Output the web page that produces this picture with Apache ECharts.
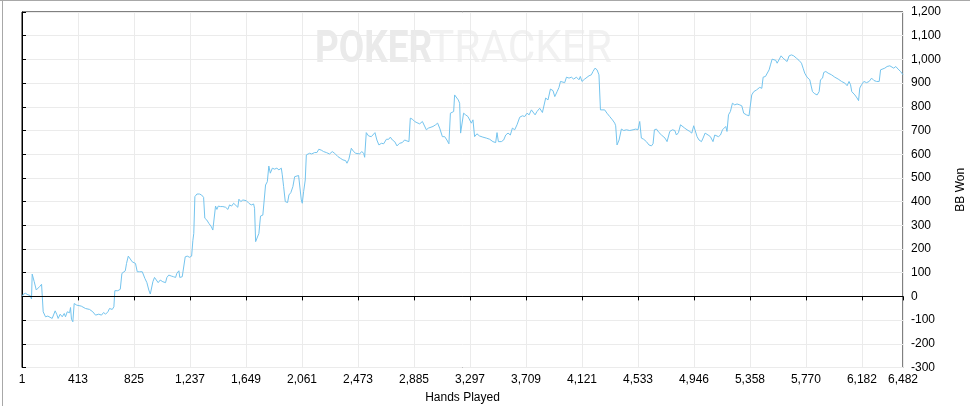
<!DOCTYPE html>
<html>
<head>
<meta charset="utf-8">
<script src="https://cdn.jsdelivr.net/npm/echarts@6/dist/echarts.min.js"></script>
<style>
html,body{margin:0;padding:0;background:#fff;}
#chart{width:970px;height:406px;}
</style>
</head>
<body>
<div id="chart"></div>
<script>
var hands = [1,11,26,43,60,70,75,90,105,119,129,144,153,156,173,190,202,222,234,244,256,266,281,296,311,320,333,350,357,364,374,384,403,436,467,497,521,541,565,585,600,615,632,644,664,676,683,705,723,735,747,760,769,782,796,811,823,835,848,865,885,894,904,919,933,944,955,963,975,988,1002,1017,1036,1056,1066,1080,1098,1115,1130,1139,1154,1161,1179,1191,1201,1216,1233,1248,1257,1264,1272,1287,1306,1321,1336,1345,1360,1375,1393,1404,1415,1424,1434,1444,1459,1478,1498,1515,1527,1542,1557,1571,1588,1596,1610,1625,1650,1669,1687,1704,1711,1719,1728,1743,1755,1772,1785,1792,1805,1816,1827,1842,1858,1875,1890,1908,1915,1925,1937,1954,1964,1978,1993,2006,2018,2035,2048,2055,2062,2072,2084,2092,2104,2116,2131,2153,2170,2184,2202,2219,2239,2263,2283,2300,2324,2342,2361,2381,2391,2405,2423,2440,2455,2469,2484,2499,2514,2521,2533,2550,2570,2582,2597,2611,2626,2644,2661,2681,2698,2710,2725,2742,2759,2778,2798,2815,2832,2847,2857,2872,2889,2906,2926,2946,2960,2975,2990,3004,3024,3043,3058,3073,3093,3110,3126,3141,3152,3166,3176,3183,3196,3210,3220,3227,3240,3249,3264,3281,3294,3306,3318,3330,3347,3366,3391,3416,3441,3465,3485,3495,3505,3527,3544,3559,3576,3593,3608,3625,3642,3662,3682,3699,3716,3731,3748,3760,3775,3789,3809,3829,3839,3853,3870,3888,3907,3920,3937,3951,3962,3976,3993,4006,4025,4042,4059,4079,4098,4108,4120,4140,4153,4172,4189,4201,4216,4231,4245,4256,4270,4287,4304,4324,4344,4361,4368,4378,4393,4410,4427,4447,4471,4496,4516,4532,4545,4557,4574,4594,4613,4631,4643,4653,4668,4687,4705,4717,4731,4746,4756,4766,4786,4803,4815,4830,4845,4859,4876,4893,4913,4928,4942,4955,4967,4981,4999,5011,5026,5048,5065,5084,5097,5109,5124,5139,5154,5163,5178,5187,5198,5212,5227,5244,5261,5281,5296,5310,5330,5349,5362,5369,5384,5404,5416,5428,5443,5453,5470,5482,5497,5507,5519,5531,5546,5556,5570,5585,5600,5614,5629,5644,5661,5678,5698,5717,5735,5747,5759,5776,5796,5806,5816,5833,5850,5865,5875,5890,5899,5914,5931,5956,5980,6005,6030,6054,6071,6085,6096,6105,6128,6144,6155,6164,6177,6194,6214,6233,6251,6268,6287,6307,6317,6331,6348,6365,6385,6397,6414,6429,6446,6464,6482];
var bbWon = [0,10,13,7,4,-11,94,62,27,24,41,51,47,-65,-86,-83,-89,-93,-97,-61,-76,-93,-75,-86,-72,-86,-65,-69,-47,-96,-107,-30,-37,-41,-51,-55,-65,-79,-75,-79,-68,-75,-65,-51,-55,-44,24,24,30,97,104,108,139,170,165,146,139,139,104,104,104,100,76,58,27,10,10,62,80,72,58,69,62,58,80,90,86,83,80,97,108,80,83,83,167,170,165,170,235,266,421,432,432,428,418,330,322,308,294,280,277,381,367,381,379,379,376,367,386,381,393,400,376,410,400,407,404,393,386,390,372,231,226,266,339,343,351,470,484,550,520,541,537,541,534,541,513,463,400,396,428,438,463,505,513,510,505,407,393,442,491,597,590,604,601,607,607,621,617,611,607,601,611,604,590,583,576,573,562,579,625,611,604,611,601,611,604,587,691,677,674,674,691,660,639,646,644,663,663,672,660,653,635,646,649,660,656,653,752,748,738,733,728,738,745,703,710,710,717,724,731,710,674,674,660,644,773,776,780,850,843,829,815,689,689,773,766,759,752,731,745,674,686,677,672,668,663,653,649,691,653,653,660,681,689,681,710,703,724,756,762,759,773,766,787,780,766,780,794,776,773,837,829,875,868,843,864,882,907,914,902,925,921,925,917,925,914,928,907,917,925,931,935,949,963,956,935,787,780,787,773,759,745,731,720,639,660,706,700,703,700,703,706,703,738,668,663,653,639,635,644,703,706,691,681,689,668,653,660,696,703,700,681,691,724,717,710,703,696,689,720,714,674,660,653,668,689,681,674,653,681,689,674,681,703,696,717,696,766,780,815,808,812,808,804,773,766,762,756,850,864,871,864,882,878,925,928,931,956,977,1001,996,996,984,984,1015,1005,1008,991,1015,1019,1015,1005,996,984,963,942,925,914,911,864,855,850,864,914,921,945,949,942,935,925,917,907,900,889,907,893,864,850,837,826,879,893,907,902,907,921,911,907,907,956,949,963,970,973,977,963,970,959,949,935];
var xTickLabels = ['1','413','825','1,237','1,649','2,061','2,473','2,885','3,297','3,709','4,121','4,533','4,946','5,358','5,770','6,182','6,482'];
var xName = 'Hands Played';
var yName = 'BB Won';

var seriesData = hands.map(function (h, i) { return [h, bbWon[i]]; });

var chart = echarts.init(document.getElementById('chart'));
var FONT = 'Liberation Sans';
chart.setOption({
  animation: false,
  backgroundColor: '#ffffff',
  textStyle: { fontFamily: FONT },
  grid: {
    left: 22, top: 12, width: 881, height: 355.5,
    show: true, borderColor: '#000000', borderWidth: 1,
    backgroundColor: 'transparent', containLabel: false,
    outerBoundsMode: 'none'
  },
  graphic: [
    { type: 'line', shape: { x1: 0, y1: 0.5, x2: 970, y2: 0.5 }, style: { stroke: '#a8a8a8', lineWidth: 1 }, z: 0 },
    { type: 'line', shape: { x1: 2.5, y1: 0, x2: 2.5, y2: 406 }, style: { stroke: '#a8a8a8', lineWidth: 1 }, z: 0 },
    { type: 'text', left: 315, top: 28, z: 0, scaleX: 0.82,
      style: { text: 'POKER', font: 'bold 45px Roboto', fill: '#eaeaea' } },
    { type: 'text', left: 429, top: 28, z: 0, scaleX: 0.94,
      style: { text: 'TRACKER', font: '45px Roboto', fill: '#f1f1f1' } }
  ],
  xAxis: {
    type: 'value', min: 0, max: 6482, interval: 412,
    name: xName, nameLocation: 'middle', nameGap: 24,
    nameTextStyle: { color: '#000', fontSize: 12, fontFamily: FONT },
    axisLine: { show: true, lineStyle: { color: '#000', width: 1 } },
    axisTick: { show: true, length: 4, lineStyle: { color: '#000' } },
    axisLabel: {
      color: '#000', fontSize: 12, fontFamily: FONT, margin: 6,
      formatter: function (v) {
        if (v >= 6482) return xTickLabels[xTickLabels.length - 1];
        var i = Math.round(v / 412);
        return xTickLabels[i] || '';
      }
    },
    splitLine: { show: true, lineStyle: { color: '#ebebeb', width: 1 } }
  },
  yAxis: {
    type: 'value', position: 'right', min: -300, max: 1200, interval: 100,
    name: yName, nameLocation: 'middle', nameGap: 52, nameRotate: 90,
    nameTextStyle: { color: '#000', fontSize: 12, fontFamily: FONT },
    axisLine: { show: true, lineStyle: { color: '#000', width: 1 } },
    axisTick: { show: true, length: 4, lineStyle: { color: '#000' } },
    axisLabel: {
      color: '#000', fontSize: 12, fontFamily: FONT, margin: 8,
      formatter: function (v) { return v.toLocaleString('en-US'); }
    },
    splitLine: { show: true, lineStyle: { color: '#ebebeb', width: 1 } }
  },
  series: [{
    type: 'line',
    data: seriesData,
    showSymbol: false,
    symbol: 'none',
    lineStyle: { color: '#74c4ee', width: 1 },
    z: 3,
    markLine: {
      silent: true, symbol: 'none', label: { show: false },
      lineStyle: { color: '#000', width: 1, type: 'solid' },
      data: [{ yAxis: 0 }]
    }
  }]
});
</script>
</body>
</html>
